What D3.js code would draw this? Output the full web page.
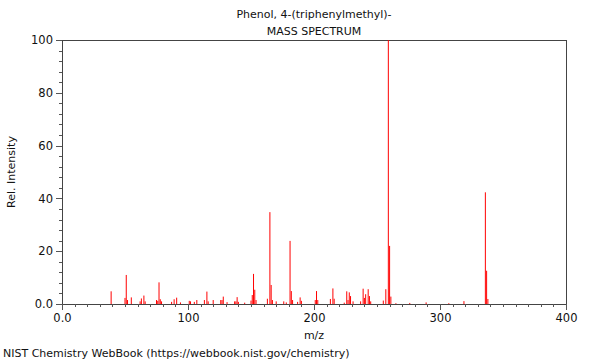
<!DOCTYPE html>
<html>
<head>
<meta charset="utf-8">
<script src="https://cdn.jsdelivr.net/npm/d3@7"></script>
<style>
  body { margin: 0; background: #fff; }
  svg text { font-family: "DejaVu Sans", sans-serif; fill: #111; }
</style>
</head>
<body>
<script>
// mass spectrum peaks
const mz = [39, 50, 51, 52, 55, 62, 63, 65, 66, 75, 76, 77, 78, 79, 87, 89, 91, 94,
  101, 102, 105, 107, 113, 115, 116, 120, 126, 127, 128, 131, 137, 138, 139, 140, 145,
  150, 151, 152, 153, 154, 163, 165, 166, 167, 170, 176, 178, 181, 182, 183, 187, 189, 190,
  201, 202, 203, 213, 215, 216, 224, 226, 227, 228, 229, 231, 237, 239, 240, 241, 243, 244, 245,
  255, 257, 259, 260, 261, 265, 276, 289, 307, 319, 336, 337, 338]
const intensity = [4.8, 2.3, 11, 1.5, 2.5, 1, 2.1, 3.2, 1, 1.5, 1.2, 8.2, 1.8, 1, 0.8, 1.8, 2.4, 0.6,
  1.2, 1, 0.8, 1.5, 1.5, 4.7, 1, 1.5, 1.5, 1.5, 2.8, 0.7, 1, 1, 2.6, 0.8, 0.5,
  1.3, 3.4, 11.4, 5.4, 1.5, 2, 34.8, 7.2, 1.5, 1, 1, 0.6, 23.9, 4.9, 1.5, 0.8, 2.5, 1.2,
  1.5, 4.9, 1.5, 1.9, 5.9, 2, 0.5, 4.8, 1.5, 4.4, 3, 1, 1, 5.8, 2.3, 3.7, 5.6, 3, 1,
  1.3, 5.6, 100, 22, 2.8, 0.3, 0.4, 0.6, 0.3, 1.1, 42.3, 12.6, 1.9]

const xMajor = [0, 100, 200, 300, 400]
const yMajor = [0, 20, 40, 60, 80, 100]
const titleLines = ['Phenol, 4-(triphenylmethyl)-', 'MASS SPECTRUM']
const footer = 'NIST Chemistry WebBook (https://webbook.nist.gov/chemistry)'

const w = 600, h = 360
const m = {left: 62, right: 34, top: 40, bottom: 56}

const peaks = mz.map((d, i) => ({mz: d, y: intensity[i]}))

const x = d3.scaleLinear().domain([0, 400]).range([m.left, w - m.right])
const y = d3.scaleLinear().domain([0, 100]).range([h - m.bottom, m.top])

const svg = d3.select('body').append('svg')
  .attr('width', w)
  .attr('height', h)

//frame
svg.append('rect')
  .attr('x', x(0)).attr('y', y(100))
  .attr('width', x(400) - x(0)).attr('height', y(0) - y(100))
  .attr('fill', 'none').attr('stroke', '#444').attr('shape-rendering', 'crispEdges')

//peaks
svg.append('g').selectAll('line')
  .data(peaks)
  .enter()
  .append('line')
  .attr('x1', d => x(d.mz)).attr('x2', d => x(d.mz))
  .attr('y1', y(0)).attr('y2', d => y(d.y))
  .attr('stroke', '#ff0000').attr('stroke-width', 1)

//x axis: minor every 10, major every 100
const xMinor = d3.range(0, 401, 10)
svg.append('g').attr('transform', `translate(0,${y(0)})`)
  .call(d3.axisBottom(x).tickValues(xMinor).tickSize(3).tickFormat(''))
  .call(g => g.select('.domain').remove())
const gx = svg.append('g').attr('transform', `translate(0,${y(0)})`)
  .call(d3.axisBottom(x).tickValues(xMajor).tickSize(6).tickPadding(4)
    .tickFormat(d => d === 0 ? '0.0' : d))
gx.select('.domain').remove()
gx.selectAll('text').attr('font-size', 11.5).attr('font-family', 'DejaVu Sans')

//y axis
const yMinor = d3.range(0, 101, 4)
svg.append('g').attr('transform', `translate(${x(0)},0)`)
  .call(d3.axisLeft(y).tickValues(yMinor).tickSize(3).tickFormat(''))
  .call(g => g.select('.domain').remove())
const gy = svg.append('g').attr('transform', `translate(${x(0)},0)`)
  .call(d3.axisLeft(y).tickValues(yMajor).tickSize(6).tickPadding(3)
    .tickFormat(d => d === 0 ? '0.0' : d))
gy.select('.domain').remove()
gy.selectAll('text').attr('font-size', 11.5).attr('font-family', 'DejaVu Sans')

svg.selectAll('.tick line').attr('stroke', '#555').attr('shape-rendering', 'crispEdges')

//titles
svg.selectAll('.title')
  .data(titleLines)
  .enter()
  .append('text')
  .attr('x', (x(0) + x(400)) / 2)
  .attr('y', (d, i) => 18 + i * 17)
  .attr('text-anchor', 'middle')
  .attr('font-size', 11)
  .text(d => d)

svg.append('text')
  .attr('x', (x(0) + x(400)) / 2).attr('y', 339)
  .attr('text-anchor', 'middle').attr('font-size', 11)
  .text('m/z')

svg.append('text')
  .attr('transform', `translate(15,${(y(0) + y(100)) / 2}) rotate(-90)`)
  .attr('text-anchor', 'middle').attr('font-size', 11)
  .text('Rel. Intensity')

svg.append('text')
  .attr('x', 3).attr('y', 357).attr('font-size', 11)
  .text(footer)
</script>
</body>
</html>
